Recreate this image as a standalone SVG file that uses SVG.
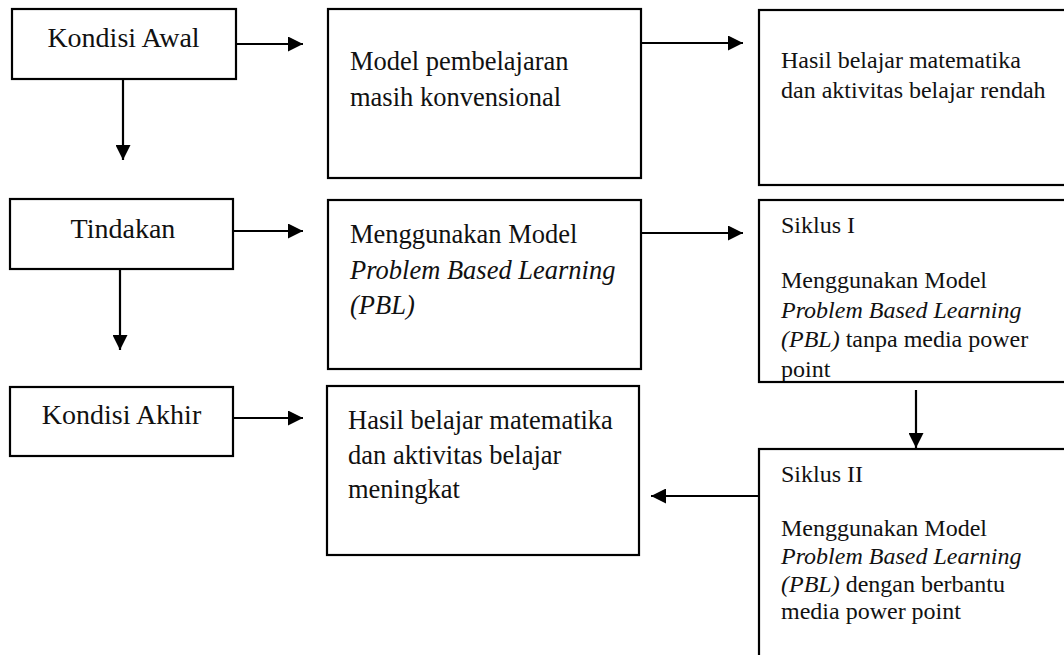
<svg xmlns="http://www.w3.org/2000/svg" width="1064" height="655" viewBox="0 0 1064 655">
<style>
.box{fill:none;stroke:#000;stroke-width:2.2}
.t{font-family:"Liberation Serif","Times New Roman",serif;fill:#111}
.l{font-size:28px}
.m{font-size:26.5px}
.s{font-size:24px}
.i{font-style:italic}
.c{stroke:#000;stroke-width:2.2;fill:none}
</style>
<defs>
<marker id="ah" viewBox="0 0 10 10" refX="10" refY="5" markerWidth="15" markerHeight="15" markerUnits="userSpaceOnUse" orient="auto">
<path d="M0,0 L10,5 L0,10 z" fill="#000"/>
</marker>
</defs>
<rect width="1064" height="655" fill="#fff"/>
<g id="connectors">
<line class="c" x1="236" y1="44" x2="303" y2="44" marker-end="url(#ah)"/>
<line class="c" x1="123" y1="79" x2="123" y2="160" marker-end="url(#ah)"/>
<line class="c" x1="641" y1="43" x2="743" y2="43" marker-end="url(#ah)"/>
<line class="c" x1="233" y1="231" x2="303" y2="231" marker-end="url(#ah)"/>
<line class="c" x1="120" y1="269" x2="120" y2="350" marker-end="url(#ah)"/>
<line class="c" x1="641" y1="233" x2="743" y2="233" marker-end="url(#ah)"/>
<line class="c" x1="233" y1="418" x2="303" y2="418" marker-end="url(#ah)"/>
<line class="c" x1="916" y1="382" x2="916" y2="448" marker-end="url(#ah)"/>
<line class="c" x1="759" y1="496" x2="651" y2="496" marker-end="url(#ah)"/>
</g>
<g id="kondisi-awal">
<rect class="box" x="12" y="9" width="224" height="70"/>
<text class="t l" x="123.5" y="47" text-anchor="middle">Kondisi Awal</text>
</g>
<g id="model-konvensional">
<rect class="box" x="328" y="9" width="313" height="169"/>
<text class="t m" x="350" y="70">Model pembelajaran</text>
<text class="t m" x="350" y="106">masih konvensional</text>
</g>
<g id="hasil-rendah">
<rect class="box" x="759" y="10" width="311" height="175"/>
<text class="t s" x="781" y="68">Hasil belajar matematika</text>
<text class="t s" x="781" y="98">dan aktivitas belajar rendah</text>
</g>
<g id="tindakan">
<rect class="box" x="10" y="199" width="223" height="70"/>
<text class="t l" x="123" y="238" text-anchor="middle">Tindakan</text>
</g>
<g id="pbl">
<rect class="box" x="328" y="200" width="313" height="169"/>
<text class="t m" x="350" y="243">Menggunakan Model</text>
<text class="t m i" x="350" y="279">Problem Based Learning</text>
<text class="t m i" x="350" y="314">(PBL)</text>
</g>
<g id="siklus-1">
<text class="t s" x="781" y="233">Siklus I</text>
<text class="t s" x="781" y="288">Menggunakan Model</text>
<text class="t s i" x="781" y="318">Problem Based Learning</text>
<text class="t s" x="781" y="347"><tspan font-style="italic">(PBL)</tspan> tanpa media power</text>
<text class="t s" x="781" y="377">point</text>
<rect x="757" y="382" width="320" height="8" fill="#fff"/>
<rect class="box" x="759" y="200" width="311" height="182"/>
</g>
<g id="kondisi-akhir">
<rect class="box" x="10" y="387" width="223" height="69"/>
<text class="t l" x="121.5" y="424" text-anchor="middle">Kondisi Akhir</text>
</g>
<g id="hasil-meningkat">
<rect class="box" x="327" y="386" width="312" height="169"/>
<text class="t m" x="348" y="429">Hasil belajar matematika</text>
<text class="t m" x="348" y="464">dan aktivitas belajar</text>
<text class="t m" x="348" y="498">meningkat</text>
</g>
<g id="siklus-2">
<rect class="box" x="759" y="449" width="311" height="220"/>
<text class="t s" x="781" y="482">Siklus II</text>
<text class="t s" x="781" y="536">Menggunakan Model</text>
<text class="t s i" x="781" y="564">Problem Based Learning</text>
<text class="t s" x="781" y="592"><tspan font-style="italic">(PBL)</tspan> dengan berbantu</text>
<text class="t s" x="781" y="619">media power point</text>
</g>
</svg>
